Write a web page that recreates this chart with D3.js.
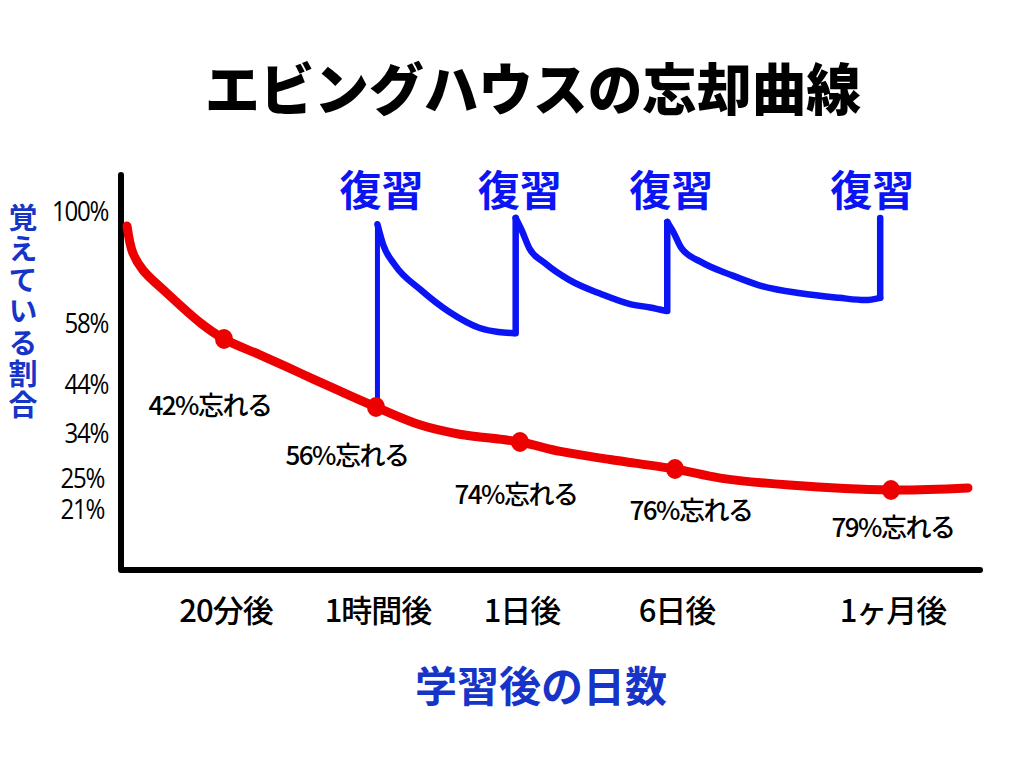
<!DOCTYPE html>
<html><head><meta charset="utf-8">
<script src="https://cdn.jsdelivr.net/npm/d3@7"></script>
<style>
html,body{margin:0;padding:0;background:#fff;}
svg{display:block;}
text{font-family:"Noto Sans CJK JP","Noto Sans",sans-serif;}
</style></head>
<body>
<svg id="chart" width="1024" height="768"></svg>
<script>
// ---- data ----
const title = "エビングハウスの忘却曲線";
const yTitle = "覚えている割合";
const xTitle = "学習後の日数";
const timeLabels = ["20分後", "1時間後", "1日後", "6日後", "1ヶ月後"];
const timeIndex = [1, 2, 3, 4, 5];
const retention = [58, 44, 26, 24, 21];
const forgetLabels = ["42%忘れる", "56%忘れる", "74%忘れる", "76%忘れる", "79%忘れる"];
const yTickValues = [100, 58, 44, 34, 25, 21];
const yTickLabels = ["100%", "58%", "44%", "34%", "25%", "21%"];
// red forgetting curve: [time index, retention %]
const forgetCurve = [
  [0, 100], [0.06, 90], [0.165, 83.6], [0.41, 75.1], [0.76, 63.9], [1, 58],
  [1.24, 54.7], [1.5, 51], [1.76, 47.3], [2, 44],
  [2.31, 34.7], [2.58, 30], [3, 26],
  [3.26, 25.3], [3.58, 24.7], [4, 24],
  [4.21, 22.7], [4.53, 21.7], [5, 21], [6, 21.3]
];
// review (復習) curves: [time index, retention %]
const reviewLabel = "復習";
const reviewAt = [2.01, 2.97, 3.95, 4.95];
const reviewCurves = [
  [[2.01, 98.9], [2.05, 95.3], [2.13, 91.8], [2.31, 87.4], [2.51, 83.5], [2.72, 80.7], [2.85, 80.0], [2.96, 79.8]],
  [[2.97, 100], [3.01, 97.9], [3.06, 94.7], [3.16, 92.1], [3.32, 89.1], [3.52, 86.7], [3.71, 84.9], [3.84, 84.3], [3.94, 83.7]],
  [[3.95, 99.3], [3.99, 97.5], [4.03, 94.7], [4.12, 92.3], [4.26, 90], [4.39, 88.2], [4.58, 86.8], [4.76, 86], [4.88, 85.6], [4.95, 86]]
];
const lastReviewTop = 100;

// ---- layout ----
const svg = d3.select("#chart");
const RED = "#ec0000", BLUE = "#0a14f5", NAVY = "#1634c8";
const x = d3.scaleLinear().domain([0, 1, 2, 3, 4, 5, 6]).range([127, 224, 376, 520, 675, 891, 968]);
const yRed = d3.scaleLinear().domain([100, 58, 44, 26, 24, 21]).range([226, 339, 407, 442, 469, 490]);
const yReview = d3.scaleLinear().domain([100, 80]).range([218, 332]);
const yTick = d3.scaleLinear().domain(yTickValues).range([210, 322, 383, 432, 477, 508]);
const labelOffset = [[-14, 64], [-29, 46], [-4, 50], [16, 39], [2, 35]];
const axisX0 = 121, axisY0 = 570;

// title
svg.append("text").attr("x", 533).attr("y", 85)
  .attr("text-anchor", "middle").attr("dominant-baseline", "central")
  .attr("font-size", 56).attr("font-weight", 900).attr("fill", "#000")
  .attr("textLength", 656).attr("lengthAdjust", "spacingAndGlyphs")
  .text(title);

// axes
svg.append("path")
  .attr("d", `M${axisX0},175 L${axisX0},${axisY0} L980,${axisY0}`)
  .attr("fill", "none").attr("stroke", "#000").attr("stroke-width", 6)
  .attr("stroke-linecap", "round").attr("stroke-linejoin", "round");

// y tick labels
svg.selectAll("text.ytick").data(yTickValues).join("text").attr("class", "ytick")
  .attr("transform", (d, i) => `translate(${i >= 4 ? 104 : 108},${yTick(d)}) scale(0.86,1)`)
  .attr("text-anchor", "end").attr("dominant-baseline", "central")
  .style("font-family", "'Open Sans','Noto Sans',sans-serif")
  .attr("font-size", 28).attr("font-weight", 500).attr("letter-spacing", -1.5).attr("fill", "#000")
  .text((d, i) => yTickLabels[i]);

// y title (vertical)
svg.append("text")
  .attr("x", 23).attr("y", 203)
  .style("writing-mode", "vertical-rl")
  .attr("text-anchor", "start")
  .attr("font-size", 29).attr("font-weight", 700).attr("fill", NAVY)
  .attr("letter-spacing", 2.3)
  .text(yTitle);

// x labels
svg.selectAll("text.xlab").data(timeLabels).join("text").attr("class", "xlab")
  .attr("x", (d, i) => x(timeIndex[i]) + 2).attr("y", 608)
  .attr("text-anchor", "middle").attr("dominant-baseline", "central")
  .attr("font-size", 31).attr("font-weight", 500).attr("fill", "#000")
  .attr("letter-spacing", -1)
  .text(d => d);

// x title
svg.append("text").attr("x", 541).attr("y", 683)
  .attr("text-anchor", "middle").attr("dominant-baseline", "central")
  .attr("font-size", 42).attr("font-weight", 700).attr("fill", NAVY)
  .text(xTitle);

// review curves
const line = d3.line().x(d => x(d[0])).curve(d3.curveMonotoneX);
svg.append("line")
  .attr("x1", x(reviewAt[0])).attr("x2", x(reviewAt[0]))
  .attr("y1", yRed(retention[1]) - 8).attr("y2", yReview(reviewCurves[0][0][1]))
  .attr("stroke", BLUE).attr("stroke-width", 5).attr("stroke-linecap", "round");
reviewCurves.forEach((seg, k) => {
  svg.append("path").datum(seg)
    .attr("d", line.y(d => yReview(d[1])))
    .attr("fill", "none").attr("stroke", BLUE).attr("stroke-width", 6.5)
    .attr("stroke-linecap", "round").attr("stroke-linejoin", "round");
  const last = seg[seg.length - 1];
  const nextTop = k + 1 < reviewCurves.length ? reviewCurves[k + 1][0][1] : lastReviewTop;
  svg.append("line")
    .attr("x1", x(reviewAt[k + 1])).attr("x2", x(reviewAt[k + 1]))
    .attr("y1", yReview(last[1])).attr("y2", yReview(nextTop))
    .attr("stroke", BLUE).attr("stroke-width", 6.5).attr("stroke-linecap", "round");
});

// review labels
svg.selectAll("text.rev").data(reviewAt).join("text").attr("class", "rev")
  .attr("x", (d, i) => x(d) + (i === 3 ? -8 : 4)).attr("y", 187)
  .attr("text-anchor", "middle").attr("dominant-baseline", "central")
  .attr("font-size", 42).attr("font-weight", 700).attr("fill", BLUE)
  .text(reviewLabel);

// red forgetting curve
svg.append("path").datum(forgetCurve)
  .attr("d", d3.line().x(d => x(d[0])).y(d => yRed(d[1])).curve(d3.curveCatmullRom.alpha(0.5)))
  .attr("fill", "none").attr("stroke", RED).attr("stroke-width", 9)
  .attr("stroke-linecap", "round").attr("stroke-linejoin", "round");
svg.selectAll("ellipse.pt").data(retention).join("ellipse").attr("class", "pt")
  .attr("cx", (d, i) => x(timeIndex[i])).attr("cy", d => yRed(d))
  .attr("rx", 9).attr("ry", 10).attr("fill", RED);

// forget labels
svg.selectAll("text.fl").data(forgetLabels).join("text").attr("class", "fl")
  .attr("x", (d, i) => x(timeIndex[i]) + labelOffset[i][0])
  .attr("y", (d, i) => yRed(retention[i]) + labelOffset[i][1])
  .attr("text-anchor", "middle").attr("dominant-baseline", "central")
  .attr("font-size", 26).attr("font-weight", 500).attr("fill", "#000")
  .attr("letter-spacing", -1.5)
  .text(d => d);
</script>
</body></html>
